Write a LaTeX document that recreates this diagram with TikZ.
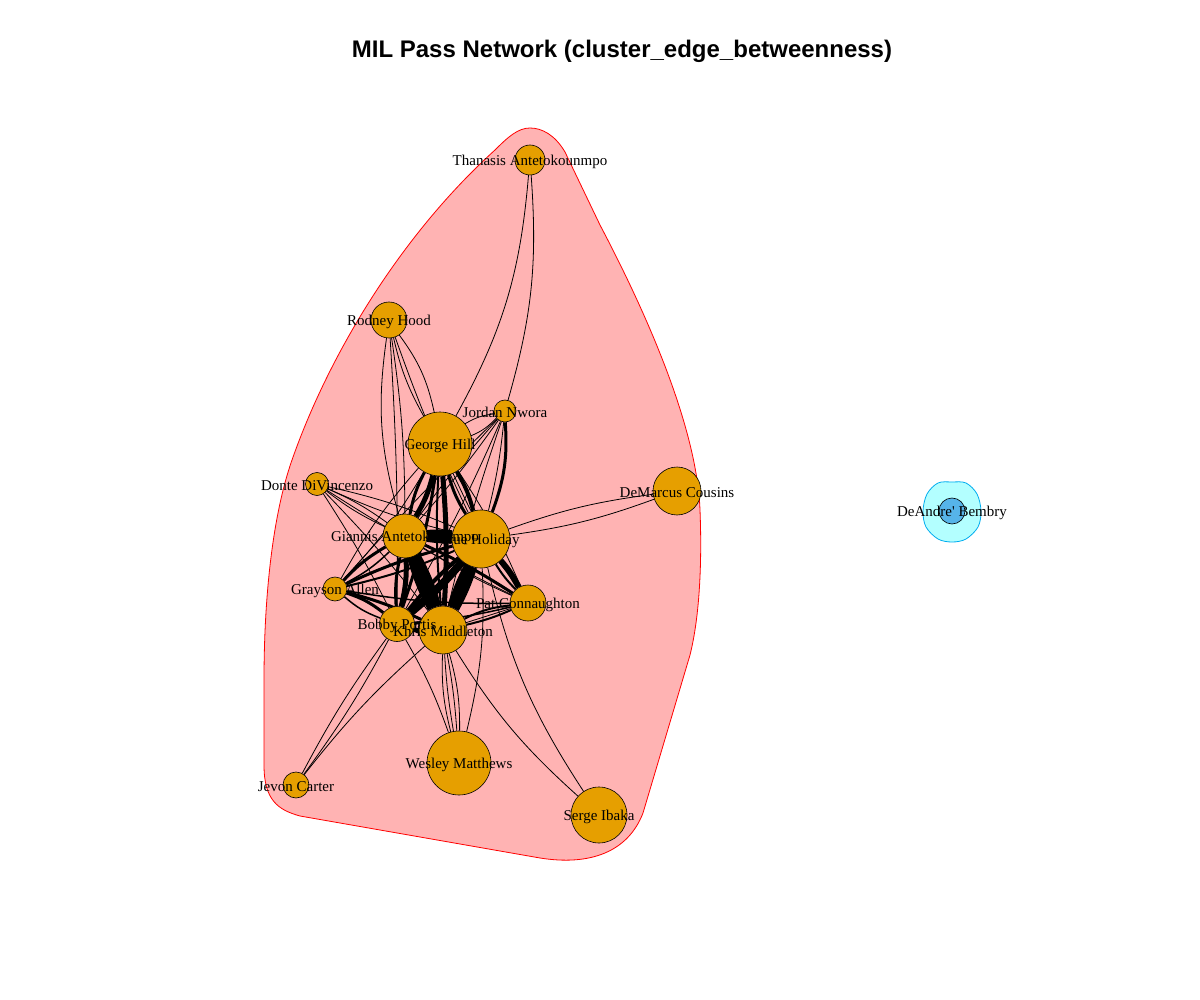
\documentclass[tikz,border=0pt]{standalone}
\usepackage{fontspec}
\setmainfont{Liberation Serif}
\newfontfamily\labfont{Liberation Serif}
\newfontfamily\titlefont{Liberation Sans}
\definecolor{nodeor}{HTML}{E69F00}
\definecolor{nodebl}{HTML}{56B4E9}
\definecolor{hullred}{HTML}{FFB3B3}
\definecolor{hullcy}{HTML}{B3FFFF}
\pgfdeclarelayer{hull}
\pgfdeclarelayer{edges}
\pgfsetlayers{hull,edges,main}
\tikzset{
  vert/.style={circle, draw=black, line width=0.6pt, fill=nodeor, inner sep=0pt},
  lab/.style={font=\labfont\fontsize{15}{18}\selectfont, inner sep=0pt, text=black, yshift=-1.5pt},
  edge/.style={draw=black, line width=0.8pt},
}
\begin{document}
\begin{tikzpicture}[x=1pt,y=-1pt]
\useasboundingbox (0,0) rectangle (1200,1000);
\node[font=\titlefont\bfseries\fontsize{24}{28}\selectfont] (title) at (622,51) {MIL Pass Network (cluster\_edge\_betweenness)};
% hulls
\begin{pgfonlayer}{hull}
\fill[white] (0,0) rectangle (1200,1000);
\draw[red, fill=hullred, line width=0.8pt]
 (530,128) .. controls (518,128) and (508,137) .. (495,150)
 .. controls (399,237) and (328,357) .. (292,460)
 .. controls (272,517) and (264,600) .. (264,680)
 -- (264,765)
 .. controls (264,800) and (278,810) .. (300,816)
 -- (540,858)
 .. controls (590,866) and (628,852) .. (643,813)
 -- (690,655)
 .. controls (700,615) and (702,560) .. (700,510)
 .. controls (697,430) and (650,320) .. (600,225)
 -- (565,152)
 .. controls (555,135) and (542,128) .. (530,128) -- cycle;
\draw[cyan, fill=hullcy, line width=0.8pt] plot[smooth cycle, tension=0.55] coordinates {
 (952,482) (966,483) (977,494) (981,511) (978,527) (966,539) (952,542) (938,539) (926,527) (923,511) (927,494) (938,483)};
\end{pgfonlayer}
% vertices
\node[vert, minimum size=30pt] (TA) at (530,160) {};
\node[vert, minimum size=36pt] (RH) at (389,320) {};
\node[vert, minimum size=22pt] (JN) at (505,411) {};
\node[vert, minimum size=64pt] (GH) at (440,444) {};
\node[vert, minimum size=23pt] (DD) at (317,484) {};
\node[vert, minimum size=48pt] (DC) at (677,491) {};
\node[vert, minimum size=44pt] (GA) at (405,536) {};
\node[vert, minimum size=58pt] (JH) at (481,539) {};
\node[vert, minimum size=24pt] (GR) at (335,589) {};
\node[vert, minimum size=36pt] (PC) at (528,603) {};
\node[vert, minimum size=35pt] (BP) at (397,624) {};
\node[vert, minimum size=48pt] (KM) at (443,630) {};
\node[vert, minimum size=64pt] (WM) at (459,763) {};
\node[vert, minimum size=26pt] (JC) at (296,785) {};
\node[vert, minimum size=56pt] (SI) at (599,815) {};
\node[vert, minimum size=26pt, fill=nodebl] (DB) at (952,511) {};
% edges
\begin{pgfonlayer}{edges}
\draw[edge] (TA) to[bend left=12] (GH);
\draw[edge] (TA) to[bend left=10] (JN);
\draw[edge] (RH) to[bend right=12] (GA);
\draw[edge] (RH) to[bend left=4] (GA);
\draw[edge] (RH) to[bend left=2] (BP);
\draw[edge] (RH) to[bend left=12] (GH);
\draw[edge] (RH) to[bend right=8] (GH);
\draw[edge] (RH) to[bend right=3] (JH);
\draw[edge] (JN) to[bend left=12] (GH);
\draw[edge] (JN) to[bend right=12] (GH);
\draw[edge, line width=3pt] (JN) to[bend left=12] (JH);
\draw[edge] (JN) to[bend left=4] (JH);
\draw[edge] (JN) to[bend left=3] (GA);
\draw[edge] (JN) to[bend right=3] (GA);
\draw[edge] (JN) to[bend right=3] (KM);
\draw[edge] (JN) to[bend left=3] (BP);
\draw[edge] (JN) to[bend right=2] (GR);
\draw[edge] (DD) to[bend left=6] (GA);
\draw[edge] (DD) to[bend right=6] (GA);
\draw[edge] (DD) to[bend left=5] (JH);
\draw[edge] (DD) to[bend right=5] (JH);
\draw[edge] (DD) to[bend left=3] (KM);
\draw[edge] (DD) to[bend left=3] (BP);
\draw[edge] (DD) to[bend right=3] (PC);
\draw[edge] (DC) to[bend left=6] (JH);
\draw[edge] (DC) to[bend right=6] (JH);
\draw[edge, line width=3pt] (GR) to[bend left=8] (GA);
\draw[edge, line width=1.5pt] (GR) to[bend right=8] (GA);
\draw[edge, line width=3pt] (GR) to[bend left=5] (JH);
\draw[edge, line width=2pt] (GR) to[bend right=5] (JH);
\draw[edge, line width=3pt] (GR) to[bend left=5] (KM);
\draw[edge, line width=3pt] (GR) to[bend left=10] (BP);
\draw[edge, line width=1.5pt] (GR) to[bend right=10] (BP);
\draw[edge, line width=1.5pt] (GR) to[bend right=5] (PC);
\draw[edge] (GR) to[bend left=6] (GH);
\draw[edge] (GR) to[bend right=6] (GH);
\draw[edge, line width=5pt] (GH) to[bend left=8] (GA);
\draw[edge, line width=3pt] (GH) to[bend right=8] (GA);
\draw[edge, line width=4pt] (GH) to[bend left=8] (JH);
\draw[edge, line width=3pt] (GH) to[bend right=8] (JH);
\draw[edge, line width=5pt] (GH) to[bend left=4] (KM);
\draw[edge, line width=2pt] (GH) to[bend right=4] (KM);
\draw[edge, line width=3pt] (GH) to[bend left=5] (BP);
\draw[edge] (GH) to[bend left=5] (PC);
\draw[edge] (GH) to[bend right=5] (PC);
\draw[edge, line width=10pt] (GA) to[bend left=5] (JH);
\draw[edge, line width=6pt] (GA) to[bend right=5] (JH);
\draw[edge, line width=10pt] (GA) to[bend left=6] (KM);
\draw[edge, line width=8pt] (GA) to[bend right=6] (KM);
\draw[edge, line width=10pt] (JH) to[bend left=5] (KM);
\draw[edge, line width=6pt] (JH) to[bend right=5] (KM);
\draw[edge, line width=5pt] (GA) to[bend left=8] (BP);
\draw[edge, line width=3pt] (GA) to[bend right=8] (BP);
\draw[edge, line width=8pt] (JH) to[bend left=5] (BP);
\draw[edge, line width=4pt] (JH) to[bend right=5] (BP);
\draw[edge, line width=5pt] (KM) to[bend left=10] (BP);
\draw[edge, line width=3pt] (KM) to[bend right=10] (BP);
\draw[edge, line width=3pt] (GA) to[bend left=4] (PC);
\draw[edge] (GA) to[bend right=4] (PC);
\draw[edge, line width=6pt] (JH) to[bend left=6] (PC);
\draw[edge, line width=2pt] (JH) to[bend right=6] (PC);
\draw[edge, line width=2pt] (KM) to[bend left=10] (PC);
\draw[edge, line width=2pt] (KM) to[bend right=5] (PC);
\draw[edge] (KM) to (PC);
\draw[edge, line width=1.5pt] (BP) to[bend right=4] (PC);
\draw[edge] (KM) to[bend left=8] (WM);
\draw[edge] (KM) to[bend left=3] (WM);
\draw[edge] (KM) to[bend right=3] (WM);
\draw[edge] (KM) to[bend right=8] (WM);
\draw[edge] (BP) to[bend left=5] (WM);
\draw[edge] (JH) to[bend left=8] (WM);
\draw[edge] (KM) to[bend right=8] (SI);
\draw[edge] (JH) to[bend right=10] (SI);
\draw[edge] (JC) to[bend left=4] (BP);
\draw[edge] (JC) to[bend right=4] (BP);
\draw[edge] (JC) to[bend left=5] (KM);
\end{pgfonlayer}
% labels
\node[lab] (lTA) at (TA) {Thanasis Antetokounmpo};
\node[lab] (lRH) at (RH) {Rodney Hood};
\node[lab] (lJN) at (JN) {Jordan Nwora};
\node[lab] (lGH) at (GH) {George Hill};
\node[lab] (lDD) at (DD) {Donte DiVincenzo};
\node[lab] (lDC) at (DC) {DeMarcus Cousins};
\node[lab] (lGA) at (GA) {Giannis Antetokounmpo};
\node[lab] (lJH) at (JH) {Jrue Holiday};
\node[lab] (lGR) at (GR) {Grayson Allen};
\node[lab] (lPC) at (PC) {Pat Connaughton};
\node[lab] (lBP) at (BP) {Bobby Portis};
\node[lab] (lKM) at (KM) {Khris Middleton};
\node[lab] (lWM) at (WM) {Wesley Matthews};
\node[lab] (lJC) at (JC) {Jevon Carter};
\node[lab] (lSI) at (SI) {Serge Ibaka};
\node[lab] (lDB) at (DB) {DeAndre' Bembry};
\end{tikzpicture}
\end{document}
